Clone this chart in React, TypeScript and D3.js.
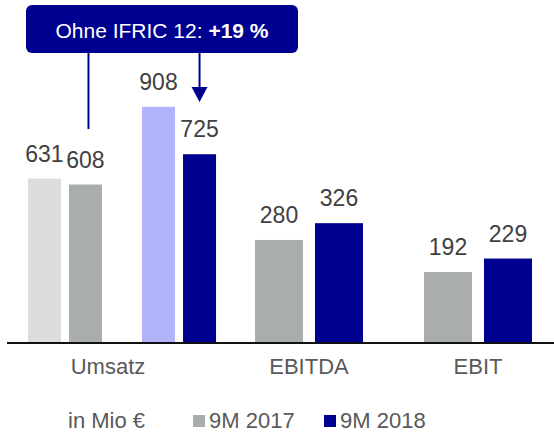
import React, { useEffect, useRef } from "react";
import * as d3 from "d3";

const years = ["9M 2017", "9M 2018"];
const variants = ["mit IFRIC 12", "ohne IFRIC 12"];
const umsatzMitIfric = [631, 908];
const umsatzOhneIfric = [608, 725];
const groups = ["EBITDA", "EBIT"];
const ebitda = [280, 326];
const ebit = [192, 229];
const calloutText = "Ohne IFRIC 12: ";
const calloutBold = "+19 %";
const unitLabel = "in Mio €";

const NAVY = "#000090";
const LAVENDER = "#b3b3fa";
const GRAY = "#a9adac";
const LIGHTGRAY = "#dcdddc";
const FONT = "'Liberation Sans', Arial, Helvetica, sans-serif";

const App: React.FC = () => {
	const svgRef = useRef<SVGSVGElement>(null);

	useEffect(() => {
		if (!svgRef.current) return;
		const svg = d3.select(svgRef.current);
		svg.selectAll("*").remove();

		const baseline = 342;

		// Umsatz panel
		const xU = d3.scaleBand().domain(years).range([8, 236]).paddingInner(0.351).paddingOuter(0.175);
		const xUin = d3.scaleBand().domain(variants).range([0, xU.bandwidth()]).paddingInner(0.195);
		const yU = d3.scaleLinear().domain([0, 1000]).range([baseline, baseline - 259]);

		// EBITDA / EBIT panel
		const xE = d3.scaleBand().domain(groups).range([240, 547]).paddingInner(0.361).paddingOuter(0.0888);
		const xEin = d3.scaleBand().domain(years).range([0, xE.bandwidth()]).paddingInner(0.2);
		const yE = d3.scaleLinear().domain([0, 400]).range([baseline, baseline - 145.8]);

		type Bar = { x: number; w: number; y: number; v: number; fill: string };
		const bars: Bar[] = [];
		years.forEach((yr, i) => {
			const vals = [umsatzMitIfric[i], umsatzOhneIfric[i]];
			variants.forEach((vr, j) => {
				const light = j === 0;
				bars.push({
					x: (xU(yr) || 0) + (xUin(vr) || 0),
					w: xUin.bandwidth(),
					y: yU(vals[j]),
					v: vals[j],
					fill: i === 0 ? (light ? LIGHTGRAY : GRAY) : light ? LAVENDER : NAVY,
				});
			});
		});
		[ebitda, ebit].forEach((vals, g) => {
			years.forEach((yr, i) => {
				bars.push({
					x: (xE(groups[g]) || 0) + (xEin(yr) || 0),
					w: xEin.bandwidth(),
					y: yE(vals[i]),
					v: vals[i],
					fill: i === 0 ? GRAY : NAVY,
				});
			});
		});

		svg
			.append("g")
			.selectAll("rect")
			.data(bars)
			.join("rect")
			.attr("x", (d) => d.x)
			.attr("y", (d) => d.y)
			.attr("width", (d) => d.w)
			.attr("height", (d) => baseline - d.y)
			.attr("fill", (d) => d.fill);

		svg
			.append("g")
			.selectAll("text")
			.data(bars)
			.join("text")
			.attr("x", (d) => d.x + d.w / 2)
			.attr("y", (d) => d.y - 17)
			.attr("text-anchor", "middle")
			.attr("font-size", 23)
			.attr("fill", "#404040")
			.text((d) => d.v);

		// baseline
		svg
			.append("line")
			.attr("x1", 7)
			.attr("x2", 554)
			.attr("y1", baseline + 1)
			.attr("y2", baseline + 1)
			.attr("stroke", "#111")
			.attr("stroke-width", 2);

		// category labels
		const umsatzRight = (xU(years[1]) || 0) + xU.bandwidth();
		const catLabels = [
			{ t: "Umsatz", x: umsatzRight / 2 },
			...groups.map((g) => ({ t: g, x: (xE(g) || 0) + xE.bandwidth() / 2 })),
		];
		svg
			.append("g")
			.selectAll("text")
			.data(catLabels)
			.join("text")
			.attr("x", (d) => d.x)
			.attr("y", 374)
			.attr("text-anchor", "middle")
			.attr("font-size", 22)
			.attr("fill", "#595959")
			.text((d) => d.t);

		// legend
		const lg = svg.append("g").attr("font-size", 22).attr("fill", "#595959");
		lg.append("text").attr("x", 68).attr("y", 428).text(unitLabel);
		const legendItems = [
			{ t: years[0], c: GRAY, x: 193 },
			{ t: years[1], c: NAVY, x: 324 },
		];
		legendItems.forEach((it) => {
			lg.append("rect").attr("x", it.x).attr("y", 415).attr("width", 12).attr("height", 12).attr("fill", it.c);
			lg.append("text").attr("x", it.x + 16).attr("y", 428).text(it.t);
		});

		// callout
		const lineX = (xU(years[0]) || 0) + (xUin(variants[1]) || 0) + xUin.bandwidth() / 2 + 3;
		const arrowX = (xU(years[1]) || 0) + (xUin(variants[1]) || 0) + xUin.bandwidth() / 2;
		svg
			.append("line")
			.attr("x1", lineX)
			.attr("x2", lineX)
			.attr("y1", 50)
			.attr("y2", 129)
			.attr("stroke", NAVY)
			.attr("stroke-width", 2);
		svg
			.append("line")
			.attr("x1", arrowX)
			.attr("x2", arrowX)
			.attr("y1", 50)
			.attr("y2", 90)
			.attr("stroke", NAVY)
			.attr("stroke-width", 2);
		svg
			.append("path")
			.attr("d", `M${arrowX - 8},87 L${arrowX + 8},87 L${arrowX},102 Z`)
			.attr("fill", NAVY);
		svg
			.append("rect")
			.attr("x", 26)
			.attr("y", 5)
			.attr("width", 272)
			.attr("height", 48)
			.attr("rx", 6)
			.attr("fill", NAVY);
		const ct = svg
			.append("text")
			.attr("x", 162)
			.attr("y", 38)
			.attr("text-anchor", "middle")
			.attr("font-size", 21)
			.attr("fill", "#fff");
		ct.append("tspan").text(calloutText);
		ct.append("tspan").attr("font-weight", "bold").text(calloutBold);
	}, []);

	return (
		<svg
			ref={svgRef}
			width={554}
			height={433}
			style={{ position: "absolute", left: 0, top: 0, fontFamily: FONT }}
		/>
	);
};

export default App;
